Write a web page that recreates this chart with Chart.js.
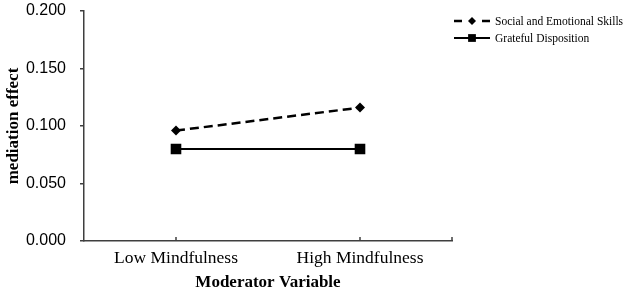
<!DOCTYPE html>
<html>
<head>
<meta charset="utf-8">
<script src="https://cdn.jsdelivr.net/npm/chart.js@4/dist/chart.umd.min.js"></script>
<style>
html,body{margin:0;padding:0;background:#fff;}
#wrap{width:630px;height:292px;position:relative;}
</style>
</head>
<body>
<div id="wrap"><canvas id="c" width="630" height="292"></canvas></div>
<script>
const categories = ['Low Mindfulness', 'High Mindfulness'];
const socialEmotional = [0.096, 0.116];
const gratefulDisposition = [0.080, 0.080];
const seriesNames = ['Social and Emotional Skills', 'Grateful Disposition'];
const yTicks = [0, 0.05, 0.10, 0.15, 0.20];

const AXIS = '#3f3f3f';
const SERIF = '"Liberation Serif", "Times New Roman", serif';
const SANS = '"Liberation Sans", Arial, sans-serif';

function drawMarker(ctx, style, x, y, r) {
  ctx.beginPath();
  if (style === 'rectRot') {
    ctx.moveTo(x, y - r); ctx.lineTo(x + r, y); ctx.lineTo(x, y + r); ctx.lineTo(x - r, y);
  } else {
    const s = r * Math.SQRT1_2;
    ctx.rect(x - s, y - s, 2 * s, 2 * s);
  }
  ctx.closePath();
  ctx.fill();
}

const extras = {
  id: 'extras',
  afterDraw(chart) {
    const ctx = chart.ctx;
    const xs = chart.scales.x;
    const area = chart.chartArea;
    ctx.save();
    // inward x-axis tick marks
    ctx.strokeStyle = AXIS; ctx.lineWidth = 1.5;
    const xsPos = xs.ticks.map((t, i) => xs.getPixelForTick(i));
    xsPos.push(area.right);
    xsPos.forEach(px => {
      ctx.beginPath(); ctx.moveTo(px, area.bottom); ctx.lineTo(px, area.bottom - 4); ctx.stroke();
    });
    // legend
    chart.data.datasets.forEach((ds, i) => {
      const y = 21 + i * 17;
      ctx.strokeStyle = '#000'; ctx.fillStyle = '#000';
      ctx.lineWidth = ds.borderWidth;
      ctx.setLineDash(ds.borderDash && ds.borderDash.length ? [8, 20] : []);
      ctx.beginPath(); ctx.moveTo(454, y); ctx.lineTo(490, y); ctx.stroke();
      ctx.setLineDash([]);
      drawMarker(ctx, ds.pointStyle, 472, y, ds.pointStyle === 'rectRot' ? 4 : 5.5);
      ctx.font = '11.5px ' + SERIF;
      ctx.textBaseline = 'middle'; ctx.textAlign = 'left';
      ctx.fillText(ds.label, 495, y + 0.5);
    });
    ctx.restore();
  }
};

new Chart(document.getElementById('c'), {
  type: 'line',
  data: {
    labels: categories,
    datasets: [
      {
        label: seriesNames[0], data: socialEmotional,
        borderColor: '#000', backgroundColor: '#000', borderWidth: 2.5, borderDash: [9, 5],
        pointStyle: 'rectRot', pointRadius: 5, pointBorderWidth: 0, fill: false, tension: 0
      },
      {
        label: seriesNames[1], data: gratefulDisposition,
        borderColor: '#000', backgroundColor: '#000', borderWidth: 2,
        pointStyle: 'rect', pointRadius: 7.5, pointBorderWidth: 0, fill: false, tension: 0
      }
    ]
  },
  options: {
    responsive: false,
    animation: false,
    devicePixelRatio: 1,
    layout: { padding: { top: 11, right: 178, bottom: 0, left: 0 } },
    plugins: { legend: { display: false }, tooltip: { enabled: false } },
    scales: {
      x: {
        offset: true,
        grid: { display: true, drawOnChartArea: false, drawTicks: false, color: 'rgba(0,0,0,0)' },
        border: { display: true, color: AXIS, width: 1.5 },
        ticks: { color: '#000', font: { family: SERIF, size: 17.5 }, padding: 7, maxRotation: 0 },
        title: { display: true, text: 'Moderator Variable', color: '#000', font: { family: SERIF, size: 17, weight: 'bold' }, padding: { top: 0, bottom: -1 } },
        afterFit(s) { s.height = 51; }
      },
      y: {
        min: 0, max: 0.2,
        afterBuildTicks(s) { s.ticks = yTicks.map(v => ({ value: v })); },
        grid: { display: true, drawOnChartArea: false, drawTicks: true, tickLength: 4, color: AXIS, lineWidth: 1.5 },
        border: { display: true, color: AXIS, width: 1.5 },
        ticks: { color: '#000', font: { family: SANS, size: 16 }, padding: 14, callback: v => Number(v).toFixed(3) },
        title: { display: true, text: 'mediation effect', color: '#000', font: { family: SERIF, size: 17, weight: 'bold' }, padding: { top: 3, bottom: 0 } },
        afterFit(s) { s.width = 84; s.paddingTop = 0; s.paddingBottom = 0; }
      }
    }
  },
  plugins: [extras]
});
</script>
</body>
</html>
